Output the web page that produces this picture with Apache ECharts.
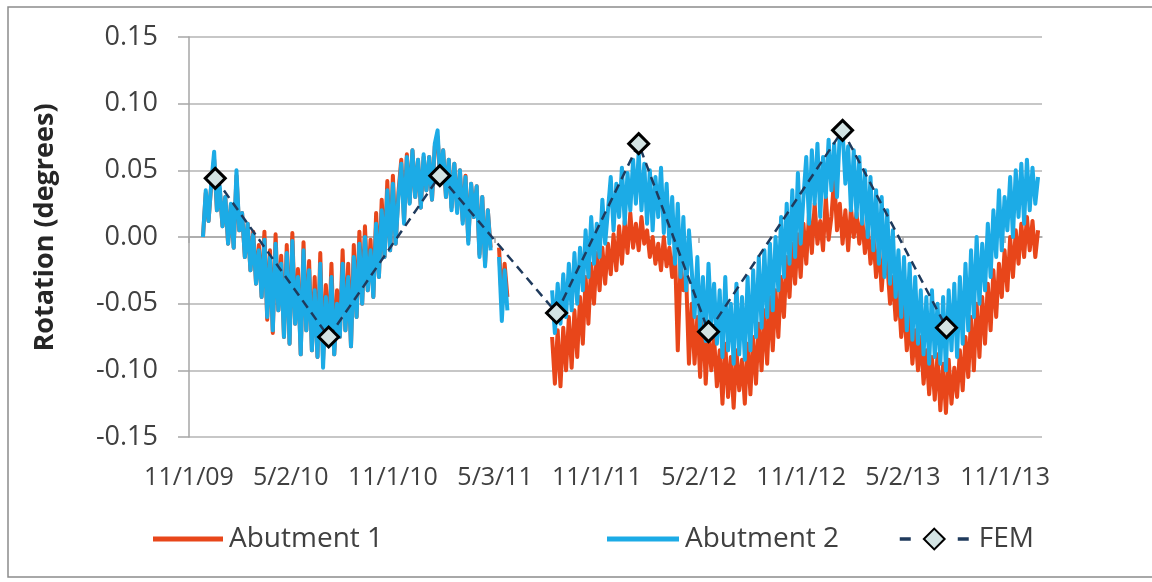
<!DOCTYPE html>
<html><head><meta charset="utf-8">
<script src="https://cdn.jsdelivr.net/npm/echarts@6/dist/echarts.min.js"></script>
<style>html,body{margin:0;padding:0;background:#fff}#c{width:1152px;height:582px}</style>
</head><body><div id="c"></div>
<script>
// ---- axis ----
const axisStart = '2009-11-01';
const axisEnd = '2014-01-06';
const tickDates = ['2009-11-01','2010-05-02','2010-11-01','2011-05-03','2011-11-01','2012-05-02','2012-11-01','2013-05-02','2013-11-01'];
const tickLabels = ['11/1/09','5/2/10','11/1/10','5/3/11','11/1/11','5/2/12','11/1/12','5/2/13','11/1/13'];

// ---- measured series: values every stepDays from each segment start ----
const stepDays = 5;
const segStarts = ['2009-11-26', '2011-05-10', '2011-08-13'];

const abut1Seg1 = [
 0.000,0.033,0.012,0.040,0.058,0.020,0.036,0.008,0.030,-0.005,
 0.024,-0.008,0.046,0.005,0.018,-0.015,0.010,-0.025,0.004,-0.035,
 -0.006,-0.045,0.004,-0.062,-0.010,-0.072,0.002,-0.055,-0.014,-0.075,
 -0.006,-0.080,0.003,-0.065,-0.024,-0.088,-0.004,-0.070,-0.018,-0.085,
 -0.030,-0.090,-0.012,-0.092,-0.036,-0.080,-0.020,-0.088,-0.040,-0.075,
 -0.010,-0.070,-0.020,-0.082,-0.006,-0.060,0.004,-0.050,0.008,-0.040,
 -0.002,-0.045,0.018,-0.030,0.028,-0.015,0.042,-0.010,0.046,-0.005,
 0.034,0.058,0.012,0.062,0.026,0.065,0.030,0.058,0.022,0.060,
 0.035,0.060,0.028,0.068,0.075,0.040,0.065,0.030,0.058,0.022,
 0.055,0.020,0.050,0.012,0.046,-0.003,0.040,0.015,0.038,-0.013,
 0.030,-0.020,0.020,-0.008
];
const abut1Seg2 = [-0.008,-0.050,-0.020,-0.045];
const abut1Seg3 = [
 -0.075,-0.110,-0.070,-0.112,-0.068,-0.100,-0.060,-0.098,-0.055,-0.090,
 -0.045,-0.080,-0.030,-0.065,-0.020,-0.050,-0.012,-0.040,-0.008,-0.035,
 -0.005,-0.028,0.002,-0.025,0.008,-0.020,0.012,-0.012,0.018,-0.008,
 0.010,-0.010,0.015,-0.005,0.005,-0.015,0.000,-0.020,-0.005,-0.025,
 0.000,-0.022,-0.008,-0.030,-0.010,-0.085,-0.020,-0.040,-0.030,-0.095,
 -0.050,-0.095,-0.060,-0.105,-0.055,-0.110,-0.070,-0.100,-0.075,-0.112,
 -0.085,-0.125,-0.080,-0.120,-0.090,-0.128,-0.085,-0.115,-0.092,-0.125,
 -0.080,-0.118,-0.075,-0.110,-0.065,-0.100,-0.055,-0.095,-0.045,-0.085,
 -0.040,-0.075,-0.030,-0.060,-0.015,-0.045,-0.005,-0.035,0.002,-0.030,
 0.010,-0.020,0.018,-0.012,0.025,-0.005,0.012,-0.010,0.030,-0.002,
 0.015,0.045,0.005,0.025,-0.005,0.020,-0.010,0.022,0.000,0.018,
 -0.005,0.015,-0.012,0.008,-0.020,0.002,-0.030,-0.005,-0.040,-0.010,
 -0.020,-0.050,-0.030,-0.062,-0.040,-0.075,-0.050,-0.085,-0.060,-0.095,
 -0.070,-0.100,-0.075,-0.110,-0.085,-0.118,-0.090,-0.122,-0.088,-0.130,
 -0.095,-0.132,-0.092,-0.125,-0.098,-0.120,-0.085,-0.115,-0.075,-0.105,
 -0.060,-0.100,-0.050,-0.090,-0.045,-0.080,-0.035,-0.070,-0.025,-0.060,
 -0.020,-0.045,-0.010,-0.040,0.000,-0.030,0.005,-0.020,0.010,-0.015,
 0.015,-0.010,0.012,-0.015,0.005
];

const abut2Seg1 = [
 0.000,0.035,0.012,0.041,0.064,0.020,0.038,0.008,0.030,-0.005,
 0.025,-0.008,0.050,0.005,0.018,-0.015,0.010,-0.025,0.002,-0.035,
 -0.010,-0.045,-0.002,-0.060,-0.015,-0.070,-0.005,-0.055,-0.020,-0.075,
 -0.012,-0.080,-0.003,-0.065,-0.030,-0.088,-0.010,-0.070,-0.025,-0.085,
 -0.040,-0.090,-0.020,-0.098,-0.045,-0.080,-0.030,-0.088,-0.050,-0.075,
 -0.020,-0.070,-0.030,-0.082,-0.015,-0.060,-0.005,-0.050,0.000,-0.040,
 -0.010,-0.045,0.010,-0.030,0.020,-0.015,0.035,-0.010,0.040,-0.005,
 0.030,0.055,0.010,0.060,0.025,0.065,0.030,0.058,0.022,0.062,
 0.035,0.060,0.028,0.070,0.080,0.040,0.065,0.030,0.058,0.020,
 0.055,0.018,0.050,0.010,0.045,-0.005,0.040,0.015,0.038,-0.015,
 0.030,-0.022,0.020,-0.010
];
const abut2Seg2 = [-0.015,-0.063,-0.025,-0.055];
const abut2Seg3 = [
 -0.040,-0.072,-0.035,-0.065,-0.028,-0.060,-0.020,-0.055,-0.012,-0.050,
 -0.008,-0.040,0.005,-0.030,0.015,-0.020,0.010,-0.015,0.028,-0.005,
 0.020,0.045,0.005,0.040,0.015,0.052,0.010,0.048,0.020,0.058,
 0.025,0.063,0.020,0.055,0.010,0.050,0.005,0.045,0.015,0.052,
 0.003,0.040,-0.005,0.030,-0.020,0.025,-0.030,0.015,-0.040,0.005,
 -0.025,-0.060,-0.015,-0.070,-0.030,-0.078,-0.020,-0.065,-0.035,-0.080,
 -0.040,-0.090,-0.030,-0.085,-0.050,-0.095,-0.035,-0.088,-0.045,-0.092,
 -0.030,-0.085,-0.025,-0.075,-0.015,-0.068,-0.010,-0.060,-0.005,-0.055,
 0.000,-0.040,0.015,-0.030,0.025,-0.020,0.035,-0.015,0.048,-0.005,
 0.030,0.060,0.010,0.065,0.025,0.070,0.015,0.060,0.030,0.073,
 0.035,0.070,0.030,0.078,0.080,0.040,0.068,0.020,0.065,0.015,
 0.060,0.010,0.050,0.000,0.045,-0.010,0.035,-0.020,0.030,-0.030,
 0.020,-0.035,0.005,-0.045,-0.010,-0.060,-0.015,-0.070,-0.020,-0.077,
 -0.030,-0.080,-0.040,-0.088,-0.045,-0.095,-0.040,-0.090,-0.050,-0.095,
 -0.045,-0.100,-0.040,-0.085,-0.035,-0.090,-0.030,-0.080,-0.020,-0.070,
 -0.010,-0.060,0.000,-0.050,-0.005,-0.040,0.010,-0.030,0.020,-0.015,
 0.035,-0.010,0.030,0.005,0.045,0.000,0.050,0.015,0.055,0.010,
 0.058,0.020,0.052,0.025,0.045
];

// ---- FEM model ----
const femDates = ['2009-12-18','2010-07-09','2011-01-24','2011-08-21','2012-01-15','2012-05-19','2013-01-14','2013-07-19'];
const femValues = [0.044, -0.075, 0.046, -0.057, 0.070, -0.071, 0.080, -0.068];

// ---- helpers ----
const T0 = Date.UTC(2009, 10, 1);
function dayOf(s) { const p = s.split('-').map(Number); return Math.round((Date.UTC(p[0], p[1]-1, p[2]) - T0) / 86400000); }
function buildSeries(segs) {
  const out = [];
  segs.forEach((vals, si) => {
    const d0 = dayOf(segStarts[si]);
    if (si > 0) out.push([d0 - 1, '-']);
    vals.forEach((v, i) => out.push([d0 + i * stepDays, v]));
  });
  return out;
}
const tickDays = tickDates.map(dayOf);
const labelByDay = {};
tickDays.forEach((d, i) => labelByDay[d] = tickLabels[i]);

const FONT = 'Open Sans';
const TXT = '#404040';
const RED = '#E8461A';
const BLUE = '#1CABE6';
const NAVY = '#1F3A5C';

const chart = echarts.init(document.getElementById('c'), null, {renderer: 'canvas'});
chart.setOption({
  animation: false,
  backgroundColor: '#fff',
  graphic: [{
    type: 'rect', silent: true, z: -1,
    shape: {x: 8, y: 7, width: 1150, height: 570},
    style: {fill: 'none', stroke: '#8c8c8c', lineWidth: 1.5}
  }],
  grid: {left: 189, right: 110, top: 37, bottom: 145},
  legend: [
    {data: [{name: 'Abutment 1', icon: 'rect'}], left: 153, top: 525, padding: 0, itemWidth: 70, itemHeight: 5, itemGap: 0,
     textStyle: {fontFamily: FONT, fontSize: 28, color: TXT, padding: [0,0,0,1]}},
    {data: [{name: 'Abutment 2', icon: 'rect'}], left: 607, top: 525, padding: 0, itemWidth: 72, itemHeight: 5, itemGap: 0,
     textStyle: {fontFamily: FONT, fontSize: 28, color: TXT, padding: [0,0,0,1]}},
    {data: ['FEM'], left: 898, top: 525, padding: 0, itemWidth: 69, itemHeight: 26, itemGap: 0,
     lineStyle: {type: [11, 47], width: 3.5},
     textStyle: {fontFamily: FONT, fontSize: 28, color: TXT, padding: [0,0,0,5]}}
  ],
  xAxis: {
    type: 'value',
    min: dayOf(axisStart), max: dayOf(axisEnd),
    splitLine: {show: false},
    axisLine: {lineStyle: {color: '#A6A6A6', width: 1.5}},
    axisTick: {show: true, length: 6, customValues: tickDays, lineStyle: {color: '#A6A6A6', width: 1.5}},
    axisLabel: {customValues: tickDays, formatter: v => labelByDay[Math.round(v)] || '',
      fontFamily: FONT, fontSize: 25, color: TXT, margin: 28}
  },
  yAxis: {
    type: 'value', min: -0.15, max: 0.15, interval: 0.05,
    name: 'Rotation (degrees)', nameLocation: 'middle', nameGap: 130, nameRotate: 90,
    nameTextStyle: {fontFamily: FONT, fontSize: 27, fontWeight: 'bold', color: '#262626', padding: [0,0,0,19]},
    axisLine: {show: true, lineStyle: {color: '#A6A6A6', width: 1.5}},
    axisTick: {show: true, length: 11, lineStyle: {color: '#A6A6A6', width: 1.5}},
    splitLine: {lineStyle: {color: '#B4B4B4', width: 1.5}},
    axisLabel: {fontFamily: FONT, fontSize: 27, color: TXT, margin: 31,
      formatter: v => (Math.abs(v) < 1e-9 ? 0 : v).toFixed(2)}
  },
  series: [
    {name: 'Abutment 1', type: 'line', data: buildSeries([abut1Seg1, abut1Seg2, abut1Seg3]),
     symbol: 'none', connectNulls: false, color: RED, lineStyle: {width: 4, color: RED, join: 'round'}, z: 2},
    {name: 'Abutment 2', type: 'line', data: buildSeries([abut2Seg1, abut2Seg2, abut2Seg3]),
     symbol: 'none', connectNulls: false, color: BLUE, lineStyle: {width: 4, color: BLUE, join: 'round'}, z: 3},
    {name: 'FEM', type: 'line', data: femDates.map((d, i) => [dayOf(d), femValues[i]]),
     symbol: 'diamond', symbolSize: 20, showSymbol: true, color: '#D3E3E3',
     itemStyle: {color: '#D3E3E3', borderColor: '#000', borderWidth: 3},
     lineStyle: {width: 2.5, color: NAVY, type: [9, 6]}, z: 4}
  ]
});
</script></body></html>
